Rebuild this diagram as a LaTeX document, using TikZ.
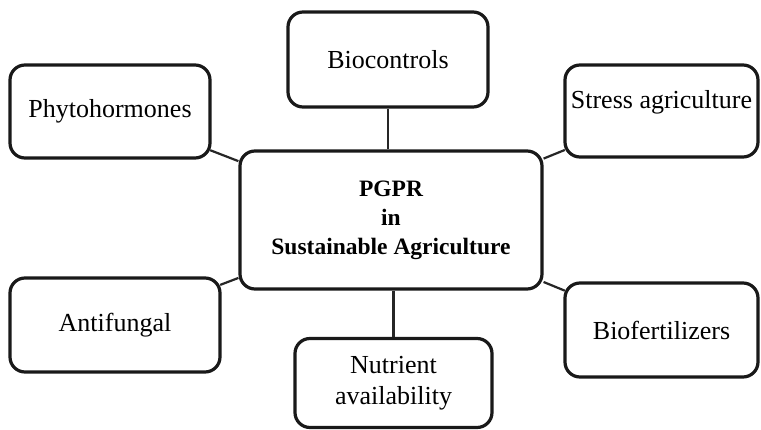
\documentclass[tikz,border=0pt]{standalone}
\usepackage{fontspec}
\setmainfont{Liberation Serif}
\begin{document}
\begin{tikzpicture}[x=1pt,y=-1pt,
  box/.style={draw=black!90,line width=3.2pt,rounded corners=15pt,fill=white,inner sep=0pt,
    align=center,font=\fontsize{26}{31}\selectfont},
  mainbox/.style={box,font=\fontsize{23.5}{29}\selectfont\bfseries},
  conn/.style={draw=black!85,line width=2.2pt}]
\useasboundingbox[fill=white] (0,0) rectangle (761,429);
\node[box,minimum width=200pt,minimum height=95pt] (bio) at (388,59.5) {Biocontrols};
\node[box,minimum width=200pt,minimum height=93pt] (phyto) at (110,111.5) {Phytohormones};
\node[box,minimum width=193pt,minimum height=92pt,text depth=23pt] (stress) at (661.5,111) {Stress agriculture};
\node[mainbox,minimum width=302pt,minimum height=138pt] (ctr) at (391,220) {PGPR\\in\\Sustainable Agriculture};
\node[box,minimum width=210pt,minimum height=94pt] (anti) at (115,325) {Antifungal};
\node[box,minimum width=193pt,minimum height=94pt] (bfert) at (661.5,330) {Biofertilizers};
\node[box,minimum width=197pt,minimum height=89pt] (nut) at (393.5,383) {Nutrient\\availability};
\draw[conn] (bio.south) -- (bio.south |- ctr.north);
\draw[conn] (nut.north) -- (nut.north |- ctr.south);
\draw[conn,shorten <=-1.5pt] (phyto) -- (ctr);
\draw[conn,shorten <=-1.5pt] (stress) -- (ctr);
\draw[conn,shorten <=-1.5pt] (anti) -- (ctr);
\draw[conn,shorten <=-1.5pt] (bfert) -- (ctr);
\end{tikzpicture}
\end{document}
